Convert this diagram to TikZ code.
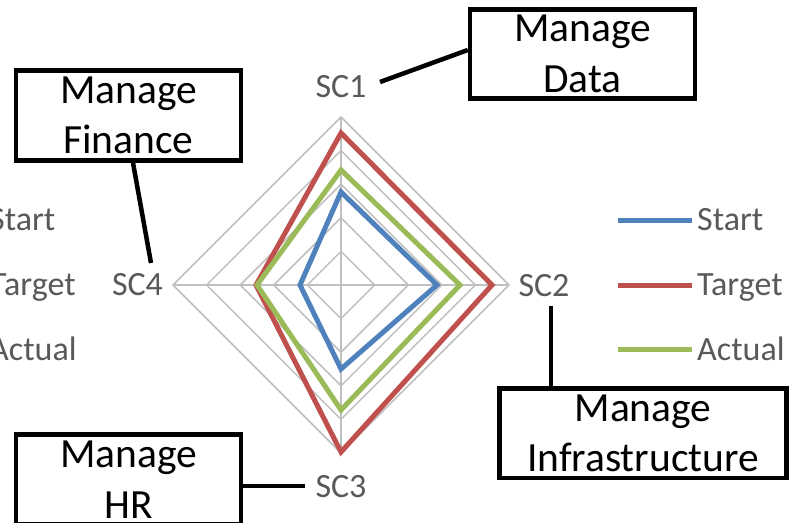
\documentclass[tikz,border=0pt]{standalone}
\usepackage{fontspec}
\setmainfont{Carlito}
\definecolor{sblue}{HTML}{4F81BD}
\definecolor{sred}{HTML}{C0504D}
\definecolor{sgreen}{HTML}{9BBB59}
\definecolor{labgray}{HTML}{595959}
\definecolor{gridgray}{HTML}{C0C0C0}
\begin{document}
\begin{tikzpicture}[x=1pt,y=-1pt,
  grid/.style={draw=gridgray, line width=1.5pt},
  series/.style={line width=5pt, line join=miter},
  axlabel/.style={text=labgray, font=\fontsize{34}{41}\selectfont, inner sep=0pt, anchor=base},
  legtext/.style={text=labgray, font=\fontsize{34}{41}\selectfont, inner sep=0pt, anchor=base west},
  legline/.style={line width=5pt},
  callout/.style={draw=black, line width=4.5pt, inner sep=0pt, align=center, font=\fontsize{41.5}{50.5}\selectfont},
  link/.style={line width=4.5pt},
]
\clip (0,0) rectangle (797,522);
\fill[white] (0,0) rectangle (797,522);
% grid
\foreach \r in {33.6,67.2,100.8,134.4,168} {
  \draw[grid] (341,{285-\r}) -- ({341+\r},285) -- (341,{285+\r}) -- ({341-\r},285) -- cycle;
}
\draw[grid] (341,117) -- (341,453);
\draw[grid] (173,285) -- (509,285);
% series
\draw[series, sblue] (341,192) -- (437,285) -- (341,369) -- (300,285) -- cycle;
\draw[series, sred] (341,133) -- (492,285) -- (341,452) -- (256,285) -- cycle;
\draw[series, sgreen] (341,170) -- (460,285) -- (341,410) -- (257,285) -- cycle;
% axis labels
\node[axlabel] (sc1) at (341,97) {SC1};
\node[axlabel] (sc2) at (544,296) {SC2};
\node[axlabel] (sc3) at (341,497) {SC3};
\node[axlabel] (sc4) at (137.5,295) {SC4};
% legend right
\draw[legline, sblue] (618,220) -- (692,220);
\draw[legline, sred] (618,285) -- (692,285);
\draw[legline, sgreen] (618,349) -- (692,349);
\node[legtext] (lstart) at (697,230) {Start};
\node[legtext] (ltarget) at (697,295) {Target};
\node[legtext] (lactual) at (697,360) {Actual};
% legend left (cut off at the edge, as in the reference)
\node[legtext] (lstart2) at (-11,230) {Start};
\node[legtext] (ltarget2) at (-10,295) {Target};
\node[legtext] (lactual2) at (-11,360) {Actual};
% callouts
\node[callout, minimum width=225pt, minimum height=89pt] (data) at (582.5,54) {Manage\\Data};
\node[callout, minimum width=225pt, minimum height=90pt] (fin) at (128.5,115.5) {Manage\\Finance};
\node[callout, minimum width=287pt, minimum height=89.5pt] (inf) at (643,433.25) {Manage\\Infrastructure};
\node[callout, minimum width=225pt, minimum height=90pt] (hr) at (128.5,479.5) {Manage\\HR};
% connectors
\coordinate (dataend) at (380,82);
\coordinate (finend) at (151,263);
\coordinate (infend) at (551,306);
\coordinate (hrend) at (305,486);
\draw[link] (dataend) -- ([yshift=4pt]data.west);
\draw[link] ([xshift=4.5pt]fin.south) -- (finend);
\draw[link] (infend) -- (infend |- inf.north);
\draw[link] (hrend) -- (hrend -| hr.east);
\end{tikzpicture}
\end{document}
